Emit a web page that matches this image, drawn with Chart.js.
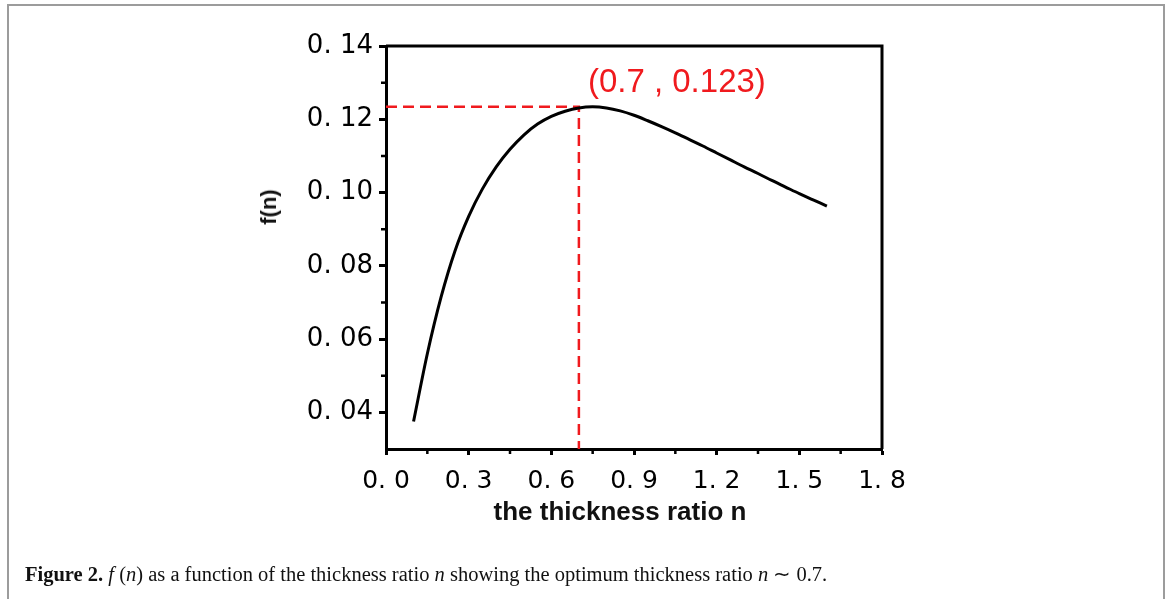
<!DOCTYPE html>
<html>
<head>
<meta charset="utf-8">
<script src="https://cdn.jsdelivr.net/npm/chart.js@4.4.0/dist/chart.umd.min.js"></script>
<style>
  html, body { margin: 0; padding: 0; background: #fff; }
  #wrap { position: relative; width: 1170px; height: 599px; overflow: hidden; }
  #frame { position: absolute; left: 7px; top: 4px; width: 1158px; height: 640px;
           border: 2px solid #9c9c9c; border-bottom: none; box-sizing: border-box; }
  canvas { position: absolute; left: 0; top: 0; }
  .axis-title { position: absolute; font-family: "Liberation Sans", Arial, sans-serif;
                font-weight: bold; color: #111; white-space: nowrap; }
  #ytitle { left: 269px; top: 207px; font-size: 22px; transform: translate(-50%, -50%) rotate(-90deg); }
  #xtitle { left: 620px; top: 511px; font-size: 26px; transform: translate(-50%, -50%); }
  #caption { position: absolute; left: 25px; top: 564px; font-family: "Liberation Serif", "Times New Roman", serif;
             font-size: 20.5px; line-height: 20px; color: #111; white-space: nowrap; }
</style>
</head>
<body>
<div id="wrap">
  <div id="frame"></div>
  <canvas id="chart" width="1170" height="599"></canvas>
  <div class="axis-title" id="ytitle">f(n)</div>
  <div class="axis-title" id="xtitle">the thickness ratio n</div>
  <div id="caption"><b>Figure 2.</b> <i>f</i> (<i>n</i>) as a function of the thickness ratio <i>n</i> showing the optimum thickness ratio <i>n</i> ∼ 0.7.</div>
</div>
<script>
// f(n) curve
const N_VALUES = [0.10, 0.15, 0.20, 0.25, 0.30, 0.35, 0.40, 0.45, 0.50, 0.55, 0.60,
                  0.65, 0.70, 0.75, 0.80, 0.85, 0.90, 0.95, 1.00, 1.05, 1.10,
                  1.15, 1.20, 1.25, 1.30, 1.35, 1.40, 1.45, 1.50, 1.55, 1.60];
const F_VALUES = [0.0375, 0.0560, 0.0715, 0.0840, 0.0935, 0.1010, 0.1070, 0.1118, 0.1157, 0.1187, 0.1208,
                  0.1222, 0.1231, 0.1234, 0.1231, 0.1223, 0.1211, 0.1196, 0.1180, 0.1163, 0.1145,
                  0.1127, 0.1108, 0.1089, 0.1070, 0.1052, 0.1033, 0.1015, 0.0997, 0.0980, 0.0963];

// optimum point
const PEAK_N = 0.7;
const PEAK_F = 0.1234;
const PEAK_LABEL = '(0.7 , 0.123)';

// axes
const X_TICKS = [0, 0.3, 0.6, 0.9, 1.2, 1.5, 1.8];
const X_LABELS = ['0. 0', '0. 3', '0. 6', '0. 9', '1. 2', '1. 5', '1. 8'];
const X_MINOR = [0.15, 0.45, 0.75, 1.05, 1.35, 1.65];
const Y_TICKS = [0.04, 0.06, 0.08, 0.10, 0.12, 0.14];
const Y_LABELS = ['0. 04', '0. 06', '0. 08', '0. 10', '0. 12', '0. 14'];
const Y_MINOR = [0.05, 0.07, 0.09, 0.11, 0.13];

const RED = '#f01a1e';

// top/right frame, minor ticks and the peak label
const framePlugin = {
  id: 'frame',
  afterDraw(chart) {
    const { ctx, chartArea: a, scales: { x, y } } = chart;
    ctx.save();
    ctx.strokeStyle = '#000';
    ctx.lineWidth = 3;
    ctx.beginPath();
    ctx.moveTo(a.left, a.top);
    ctx.lineTo(a.right, a.top);
    ctx.lineTo(a.right, a.bottom);
    ctx.stroke();

    ctx.lineWidth = 2.5;
    ctx.beginPath();
    X_MINOR.forEach(v => {
      const px = x.getPixelForValue(v);
      ctx.moveTo(px, a.bottom + 1);
      ctx.lineTo(px, a.bottom + 5);
    });
    Y_MINOR.forEach(v => {
      const py = y.getPixelForValue(v);
      ctx.moveTo(a.left - 1, py);
      ctx.lineTo(a.left - 5, py);
    });
    ctx.stroke();

    ctx.fillStyle = RED;
    ctx.font = '33px "Liberation Sans", Arial, sans-serif';
    ctx.textBaseline = 'alphabetic';
    ctx.fillText(PEAK_LABEL, x.getPixelForValue(PEAK_N) + 9, y.getPixelForValue(PEAK_F) - 15);
    ctx.restore();
  }
};

new Chart(document.getElementById('chart'), {
  type: 'line',
  data: {
    datasets: [
      {
        data: N_VALUES.map((n, i) => ({ x: n, y: F_VALUES[i] })),
        borderColor: '#000',
        borderWidth: 3,
        pointRadius: 0,
        cubicInterpolationMode: 'monotone',
        fill: false
      },
      {
        data: [{ x: 0, y: PEAK_F }, { x: PEAK_N, y: PEAK_F }, { x: PEAK_N, y: 0.03 }],
        borderColor: RED,
        borderWidth: 2.5,
        borderDash: [11, 6],
        pointRadius: 0,
        tension: 0,
        fill: false
      }
    ]
  },
  options: {
    responsive: false,
    animation: false,
    layout: { padding: { left: 0, top: 46, right: 288, bottom: 0 } },
    plugins: { legend: { display: false }, tooltip: { enabled: false } },
    scales: {
      x: {
        type: 'linear',
        min: 0,
        max: 1.8,
        afterBuildTicks: s => { s.ticks = X_TICKS.map(v => ({ value: v })); },
        afterFit: s => { s.height = 150; },
        border: { width: 3, color: '#000' },
        grid: { drawOnChartArea: false, tickLength: 6, tickWidth: 3, tickColor: '#000' },
        ticks: { color: '#000', font: { family: 'DejaVu Sans', size: 25 }, padding: 11,
                 maxRotation: 0, autoSkip: false, callback: (v, i) => X_LABELS[i] }
      },
      y: {
        type: 'linear',
        min: 0.03,
        max: 0.14,
        afterBuildTicks: s => { s.ticks = Y_TICKS.map(v => ({ value: v })); },
        afterFit: s => { s.width = 386; },
        border: { width: 3, color: '#000' },
        grid: { drawOnChartArea: false, tickLength: 7, tickWidth: 3, tickColor: '#000' },
        ticks: { color: '#000', font: { family: 'DejaVu Sans', size: 26 }, padding: 6,
                 autoSkip: false, callback: (v, i) => Y_LABELS[i] }
      }
    }
  },
  plugins: [framePlugin]
});
</script>
</body>
</html>
